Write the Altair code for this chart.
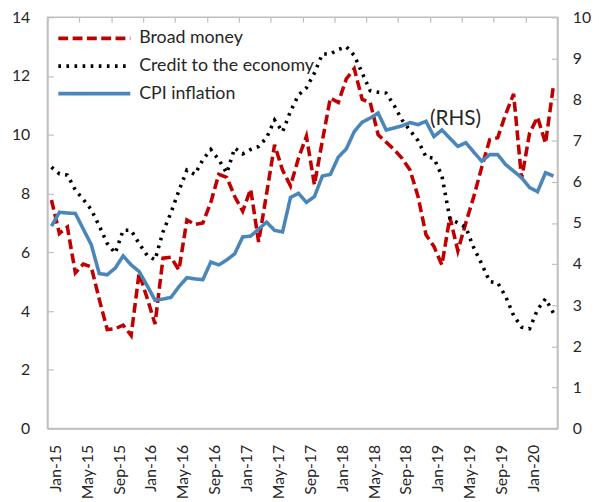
import altair as alt
import pandas as pd

tick_labels = ["Jan-15", "May-15", "Sep-15", "Jan-16", "May-16", "Sep-16", "Jan-17", "May-17",
               "Sep-17", "Jan-18", "May-18", "Sep-18", "Jan-19", "May-19", "Sep-19", "Jan-20"]

series_names = ["Broad money", "Credit to the economy", "CPI inflation"]

broad_money = [7.78, 6.64, 6.86, 5.3, 5.6, 5.5, 4.4, 3.37, 3.4, 3.52, 3.17, 5.29, 4.45, 3.56, 5.8, 5.83,
               5.4, 7.1, 6.95, 7.0, 7.7, 8.65, 8.55, 7.9, 7.4, 8.15, 6.35, 8.0, 9.66, 8.8, 8.26, 9.2,
               9.95, 8.3, 9.8, 11.25, 11.1, 11.9, 12.25, 11.2, 11.1, 10.0, 9.75, 9.5, 9.2, 8.8, 7.9, 6.6,
               6.2, 5.57, 7.2, 6.05, 7.0, 7.9, 8.9, 9.83, 9.9, 10.7, 11.39, 8.5, 10.05, 10.6, 9.71, 11.67]

credit = [8.9, 8.67, 8.63, 8.12, 7.8, 7.45, 6.9, 6.3, 5.97, 6.75, 6.75, 6.3, 5.9, 5.74, 6.7, 7.35,
          8.1, 8.8, 8.65, 9.15, 9.5, 9.15, 8.7, 9.55, 9.35, 9.5, 9.6, 9.9, 10.5, 10.1, 10.8, 11.35,
          11.6, 12.1, 12.75, 12.75, 12.9, 13.0, 12.7, 12.1, 11.5, 11.45, 11.42, 11.0, 10.5, 10.15, 9.8, 9.25,
          9.2, 8.6, 7.15, 7.0, 6.85, 6.15, 5.6, 5.0, 4.96, 4.5, 3.85, 3.45, 3.4, 4.05, 4.42, 3.93]

cpi = [4.92, 5.26, 5.24, 5.23, 4.85, 4.47, 3.77, 3.74, 3.9, 4.2, 3.98, 3.82, 3.48, 3.12, 3.15, 3.19,
       3.45, 3.67, 3.64, 3.62, 4.05, 3.98, 4.1, 4.25, 4.66, 4.68, 4.85, 5.02, 4.82, 4.78, 5.62, 5.72,
       5.5, 5.64, 6.14, 6.18, 6.6, 6.8, 7.22, 7.45, 7.55, 7.67, 7.26, 7.31, 7.36, 7.44, 7.39, 7.47,
       7.1, 7.26, 7.06, 6.86, 6.95, 6.72, 6.5, 6.66, 6.66, 6.42, 6.26, 6.1, 5.86, 5.76, 6.22, 6.14]

rhs_note = ["(RHS)"]
rhs_note_pos = [51.2, 7.53]

n = len(broad_money)
rows = []
for name, vals in zip(series_names, [broad_money, credit, cpi]):
    for i, v in enumerate(vals):
        rows.append({"pos": i + 0.5, "series": name, "value": v})
df = pd.DataFrame(rows)
lhs = df[df["series"] != "CPI inflation"]
rhs = df[df["series"] == "CPI inflation"]
note_df = pd.DataFrame({"pos": [rhs_note_pos[0]], "value": [rhs_note_pos[1]], "label": rhs_note})

FONT = "Lato"
GREY = "#BFBFBF"
TXT = "#262626"

xscale = alt.Scale(domain=[0, n], nice=False, zero=False)
color_scale = alt.Scale(domain=series_names, range=["#C00000", "#000000", "#4A86BA"])
dash_scale = alt.Scale(domain=series_names, range=[[10, 4.5], [2.7, 5.5], [1, 0]])
labels_js = "[" + ",".join("'%s'" % t for t in tick_labels) + "]"

legend = alt.Legend(title=None, orient="none", legendX=38, legendY=12,
                    symbolType="M-5,0H5", symbolSize=213, symbolStrokeWidth=3.8,
                    labelFont=FONT, labelFontSize=18, labelColor=TXT, labelOffset=36,
                    rowPadding=9, labelLimit=300, padding=0)

x_lab = alt.X("pos:Q", scale=xscale,
              axis=alt.Axis(values=[i * 4 + 0.5 for i in range(len(tick_labels))],
                            labelExpr=labels_js + "[floor(datum.value/4)]",
                            labelAngle=270, labelFont=FONT, labelFontSize=16, labelColor=TXT,
                            ticks=False, domain=True, domainColor=GREY, domainWidth=1.5,
                            grid=False, title=None, labelPadding=16, labelBaseline="middle",
                            labelOffset=4))
x_tick = alt.X("pos:Q", scale=xscale,
               axis=alt.Axis(values=[i * 4 for i in range(n // 4 + 1)], labels=False,
                             ticks=True, tickColor=GREY, tickWidth=1.2, tickSize={"expr": "-5"},
                             domain=False, grid=False, title=None))

left = alt.Chart(lhs).mark_line(strokeWidth=3.6, strokeCap="butt").encode(
    x=x_lab,
    y=alt.Y("value:Q", scale=alt.Scale(domain=[0, 14], nice=False),
            axis=alt.Axis(values=list(range(0, 15, 2)), orient="left", title=None, grid=False,
                          labelFont=FONT, labelFontSize=16, labelColor=TXT, domainColor=GREY,
                          domainWidth=1.5, tickColor=GREY, tickWidth=1.2, tickSize={"expr": "-6"},
                          labelPadding=24)),
    color=alt.Color("series:N", scale=color_scale, legend=legend),
    strokeDash=alt.StrokeDash("series:N", scale=dash_scale, legend=legend),
    detail="series:N",
)

right = alt.Chart(rhs).mark_line(strokeWidth=3.6).encode(
    x=x_tick,
    y=alt.Y("value:Q", scale=alt.Scale(domain=[0, 10], nice=False),
            axis=alt.Axis(values=list(range(0, 11)), orient="right", title=None, grid=False,
                          labelFont=FONT, labelFontSize=16, labelColor=TXT, domainColor=GREY,
                          domainWidth=1.5, tickColor=GREY, tickWidth=1.2, tickSize={"expr": "-6"},
                          labelPadding=21)),
    color=alt.Color("series:N", scale=color_scale, legend=legend),
    strokeDash=alt.StrokeDash("series:N", scale=dash_scale, legend=legend),
)

note = alt.Chart(note_df).mark_text(font=FONT, fontSize=21, color=TXT).encode(
    x=alt.X("pos:Q", scale=xscale, axis=None),
    y=alt.Y("value:Q", scale=alt.Scale(domain=[0, 10], nice=False), axis=None),
    text="label:N",
)

chart = alt.layer(left, right, note).resolve_scale(y="independent").resolve_axis(
    x="independent", y="independent"
).properties(
    width=517, height=417,
    autosize=alt.AutoSizeParams(type="none"),
    padding={"left": 40, "top": 6, "right": 34, "bottom": 70},
).configure_view(stroke=GREY, strokeWidth=1.5)

chart.save("out.html", embed_options={"renderer": "svg", "actions": False})
